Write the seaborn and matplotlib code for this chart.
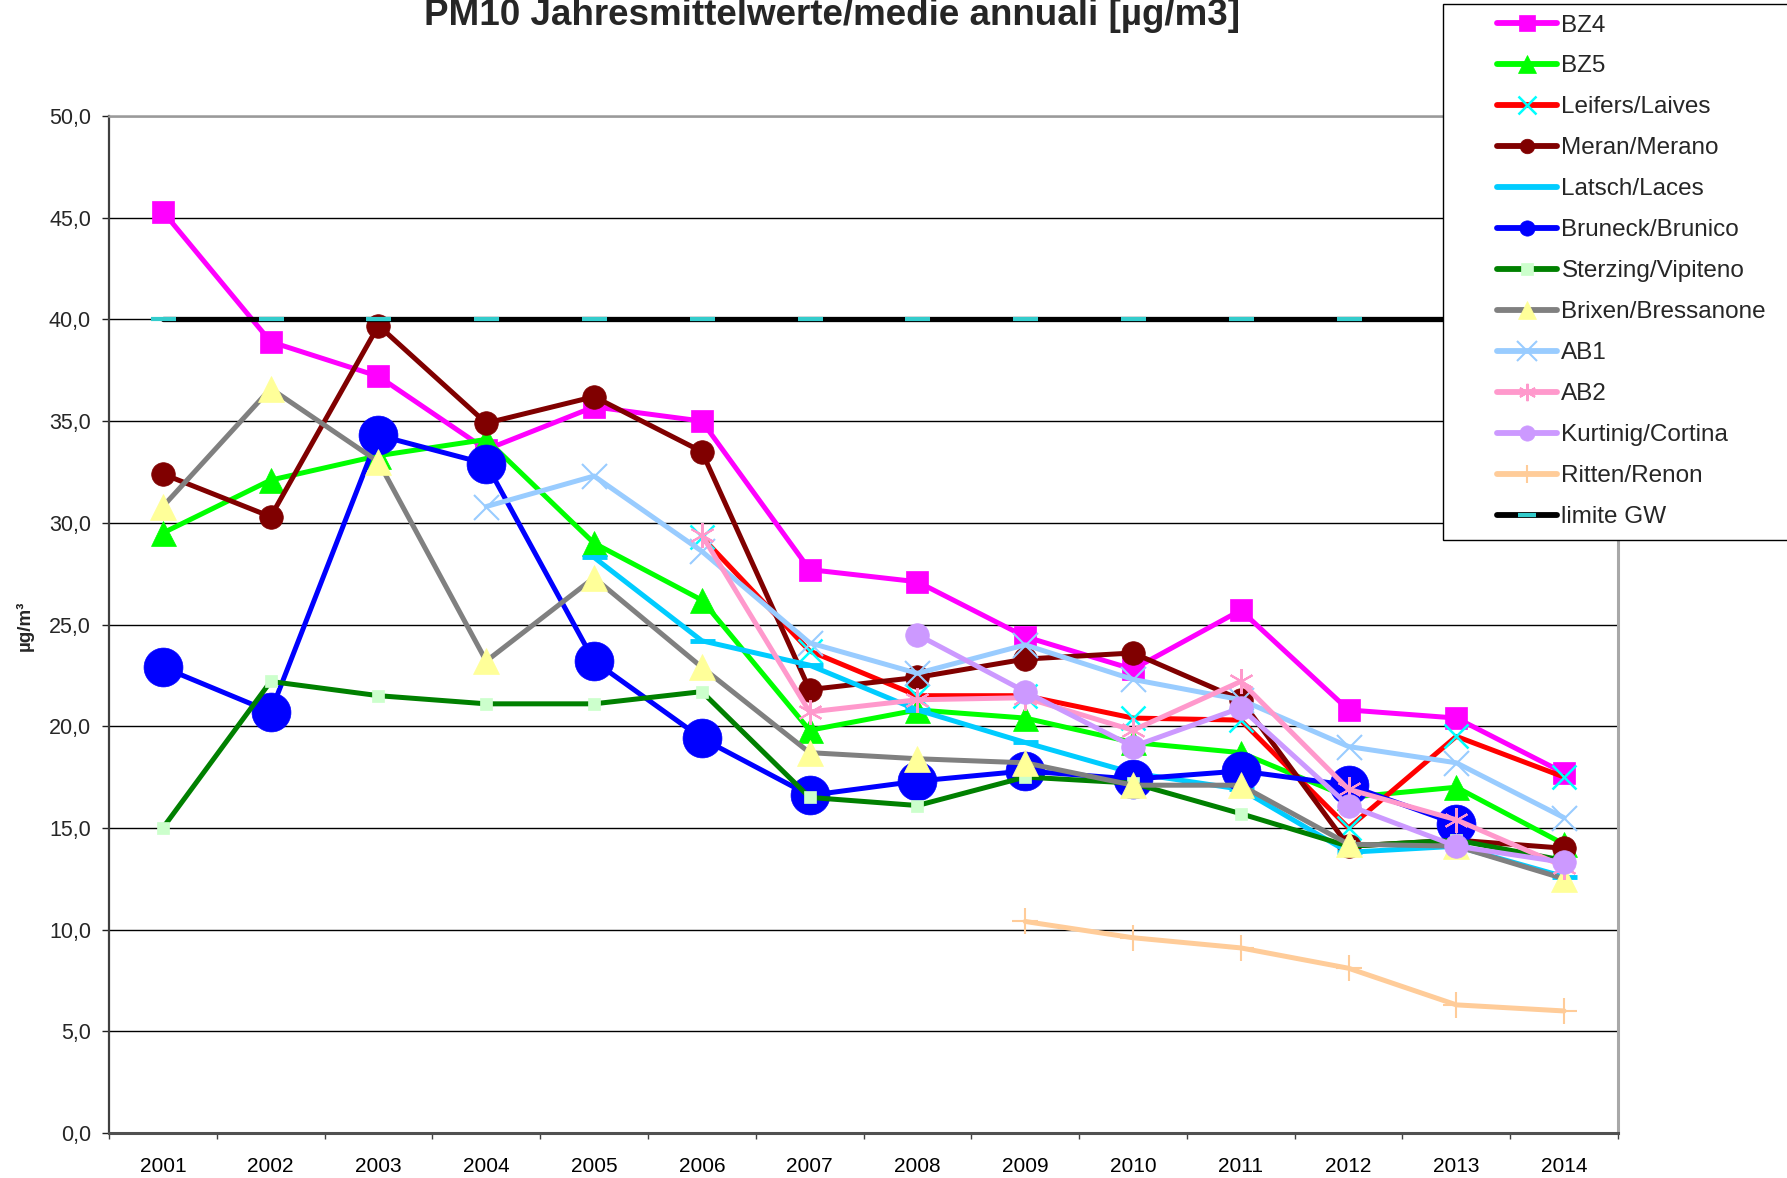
import matplotlib
matplotlib.use("Agg")
import matplotlib.pyplot as plt
from matplotlib.lines import Line2D
from matplotlib.patches import Rectangle
from matplotlib.ticker import FixedLocator, FuncFormatter
import seaborn as sns
import pandas as pd

# ---------------- data ----------------
years = [2001, 2002, 2003, 2004, 2005, 2006, 2007, 2008, 2009, 2010, 2011, 2012, 2013, 2014]

bz4 = [45.3, 38.9, 37.2, 33.6, 35.7, 35.0, 27.7, 27.1, 24.4, 22.8, 25.7, 20.8, 20.4, 17.7]
bz5 = [29.5, 32.1, 33.3, 34.1, 29.0, 26.2, 19.8, 20.8, 20.4, 19.2, 18.7, 16.5, 17.0, 14.2]
leifers_years = [2006, 2007, 2008, 2009, 2010, 2011, 2012, 2013, 2014]
leifers = [29.3, 23.7, 21.5, 21.5, 20.4, 20.3, 15.0, 19.5, 17.5]
meran = [32.4, 30.3, 39.7, 34.9, 36.2, 33.5, 21.8, 22.4, 23.3, 23.6, 21.3, 14.1, 14.4, 14.0]
latsch_years = [2005, 2006, 2007, 2008, 2009, 2010, 2011, 2012, 2013, 2014]
latsch = [28.3, 24.2, 23.0, 20.8, 19.2, 17.7, 16.9, 13.8, 14.1, 12.6]
bruneck_years = [2001, 2002, 2003, 2004, 2005, 2006, 2007, 2008, 2009, 2010, 2011, 2012, 2013]
bruneck = [22.9, 20.7, 34.3, 32.9, 23.2, 19.4, 16.6, 17.3, 17.8, 17.4, 17.8, 17.1, 15.2]
sterzing = [15.0, 22.2, 21.5, 21.1, 21.1, 21.7, 16.5, 16.1, 17.5, 17.2, 15.7, 14.1, 14.4, 13.4]
brixen = [30.8, 36.6, 33.0, 23.2, 27.3, 22.9, 18.7, 18.4, 18.2, 17.1, 17.1, 14.2, 14.1, 12.5]
ab1_years = [2004, 2005, 2006, 2007, 2008, 2009, 2010, 2011, 2012, 2013, 2014]
ab1 = [30.8, 32.3, 28.6, 24.1, 22.6, 24.0, 22.3, 21.3, 19.0, 18.2, 15.5]
ab2_years = [2006, 2007, 2008, 2009, 2010, 2011, 2012, 2013, 2014]
ab2 = [29.4, 20.7, 21.3, 21.4, 19.8, 22.2, 16.9, 15.4, 13.1]
kurtinig_years = [2008, 2009, 2010, 2011, 2012, 2013, 2014]
kurtinig = [24.5, 21.7, 19.0, 20.9, 16.1, 14.1, 13.3]
ritten_years = [2009, 2010, 2011, 2012, 2013, 2014]
ritten = [10.4, 9.6, 9.1, 8.1, 6.3, 6.0]
limite = [40.0, 40.0, 40.0, 40.0, 40.0, 40.0, 40.0, 40.0, 40.0, 40.0, 40.0, 40.0, 40.0, 40.0]

y_ticks = [0, 5, 10, 15, 20, 25, 30, 35, 40, 45, 50]
title = "PM10 Jahresmittelwerte/medie annuali [µg/m3]"
ylabel = "µg/m³"

# ---------------- style ----------------
sns.set_style("white")
plt.rcParams['font.family'] = ['Liberation Sans', 'DejaVu Sans']

W, H = 1787, 1178
fig = plt.figure(figsize=(W / 100, H / 100), dpi=100)
L, R, T, B = 109, 1618, 116, 1133
ax = fig.add_axes([L / W, 1 - B / H, (R - L) / W, (B - T) / H])

ASTER = (6, 2, 0)
LW = 3.6

series = [
    ("BZ4", years, bz4, dict(color="#FF00FF", marker="s", markersize=16.5, markerfacecolor="#FF00FF", markeredgecolor="#FF00FF", markeredgewidth=0.5)),
    ("BZ5", years, bz5, dict(color="#00FF00", marker="^", markersize=18, markerfacecolor="#00FF00", markeredgecolor="#00FF00", markeredgewidth=0.5)),
    ("Leifers/Laives", leifers_years, leifers, dict(color="#FF0000", marker="x", markersize=17, markerfacecolor="none", markeredgecolor="#00FFFF", markeredgewidth=1.8)),
    ("Meran/Merano", years, meran, dict(color="#800000", marker="o", markersize=17, markerfacecolor="#800000", markeredgecolor="#800000", markeredgewidth=0.5)),
    ("Latsch/Laces", latsch_years, latsch, dict(color="#00CCFF", marker="_", markersize=18, markerfacecolor="#00CCFF", markeredgecolor="#00CCFF", markeredgewidth=3.5)),
    ("Bruneck/Brunico", bruneck_years, bruneck, dict(color="#0000FF", marker="o", markersize=28, markerfacecolor="#0000FF", markeredgecolor="#0000FF", markeredgewidth=0.5)),
    ("Sterzing/Vipiteno", years, sterzing, dict(color="#008000", marker="s", markersize=8, markerfacecolor="#CCFFCC", markeredgecolor="#CCFFCC", markeredgewidth=0.5)),
    ("Brixen/Bressanone", years, brixen, dict(color="#808080", marker="^", markersize=18.5, markerfacecolor="#FFFF99", markeredgecolor="#FFFF99", markeredgewidth=0.5)),
    ("AB1", ab1_years, ab1, dict(color="#99CCFF", marker="x", markersize=18, markerfacecolor="none", markeredgecolor="#99CCFF", markeredgewidth=1.5)),
    ("AB2", ab2_years, ab2, dict(color="#FF99CC", marker=ASTER, markersize=18, markerfacecolor="none", markeredgecolor="#FF99CC", markeredgewidth=1.5)),
    ("Kurtinig/Cortina", kurtinig_years, kurtinig, dict(color="#CC99FF", marker="o", markersize=17, markerfacecolor="#CC99FF", markeredgecolor="#CC99FF", markeredgewidth=0.5)),
    ("Ritten/Renon", ritten_years, ritten, dict(color="#FFCC99", marker="+", markersize=18.5, markerfacecolor="none", markeredgecolor="#FFCC99", markeredgewidth=1.5)),
    ("limite GW", years, limite, dict(color="#000000", marker="_", markersize=18, markerfacecolor="#33CCCC", markeredgecolor="#33CCCC", markeredgewidth=3.0)),
]

for name, xs, ys, kw in series:
    df = pd.DataFrame({"year": xs, "value": ys})
    lw = 3.8 if name == "limite GW" else LW
    sns.lineplot(data=df, x="year", y="value", ax=ax, linewidth=lw,
                 solid_joinstyle="round", solid_capstyle="round",
                 legend=False, **kw)

# ---------------- axes ----------------
ax.set_xlim(2000.5, 2014.5)
ax.set_ylim(0, 50)
ax.set_xlabel("")
ax.set_ylabel("")
ax.set_xticks(years)
ax.set_xticklabels([str(y) for y in years])
ax.xaxis.set_minor_locator(FixedLocator([y + 0.5 for y in [2000] + years]))
ax.tick_params(axis="x", which="major", length=0, pad=17, labelsize=15, colors="black")
ax.tick_params(axis="x", which="minor", length=4.5, width=1, color="#404040", direction="out", bottom=True)
ax.set_yticks(y_ticks)
ax.yaxis.set_major_formatter(FuncFormatter(lambda v, p: f"{v:.1f}".replace(".", ",")))
ax.tick_params(axis="y", which="major", length=5, width=1, color="#202020", pad=8, labelsize=15.5, left=True, direction="out")

ax.set_axisbelow(True)
ax.yaxis.grid(True, color="black", linewidth=1.0)
ax.xaxis.grid(False)

ax.spines["left"].set_color("#404040")
ax.spines["left"].set_linewidth(1.6)
ax.spines["bottom"].set_color("#505050")
ax.spines["bottom"].set_linewidth(2.2)
ax.spines["top"].set_color("#9A9A9A")
ax.spines["top"].set_linewidth(1.8)
ax.spines["right"].set_color("#A8A8A8")
ax.spines["right"].set_linewidth(2.2)

# ---------------- texts ----------------
fig.text(832 / W, 1 - 25 / H, title, ha="center", va="baseline",
         fontsize=26.5, fontweight="bold")
fig.text(25 / W, 1 - 626 / H, ylabel, ha="center", va="center",
         rotation=90, fontsize=13.5, fontweight="bold")

# ---------------- legend ----------------
frame = Rectangle((1443 / W, 1 - 540 / H), 0.3, 536 / H, transform=fig.transFigure,
                  facecolor="white", edgecolor="black", linewidth=1.0, zorder=4)
fig.add_artist(frame)

leg_ms = {"BZ4": 12, "BZ5": 13.5, "Leifers/Laives": 12.5, "Meran/Merano": 10.5, "Latsch/Laces": 0.1,
          "Bruneck/Brunico": 11, "Sterzing/Vipiteno": 8.5, "Brixen/Bressanone": 13.5,
          "AB1": 14, "AB2": 12.5, "Kurtinig/Cortina": 11, "Ritten/Renon": 13, "limite GW": 13}
handles = []
labels = []
for name, xs, ys, kw in series:
    k = dict(kw)
    k["markersize"] = leg_ms[name]
    handles.append(Line2D([], [], linewidth=4.2, solid_capstyle="round", **k))
    labels.append(name)

leg = fig.legend(handles, labels, loc="upper left",
                 bbox_to_anchor=(1497 / W, 1 - 14.5 / H),
                 frameon=False, borderpad=0, borderaxespad=0,
                 handlelength=2.45, handletextpad=0.2, labelspacing=0.78,
                 fontsize=17.5)
leg.set_zorder(6)

fig.savefig("out.png", dpi=100)
